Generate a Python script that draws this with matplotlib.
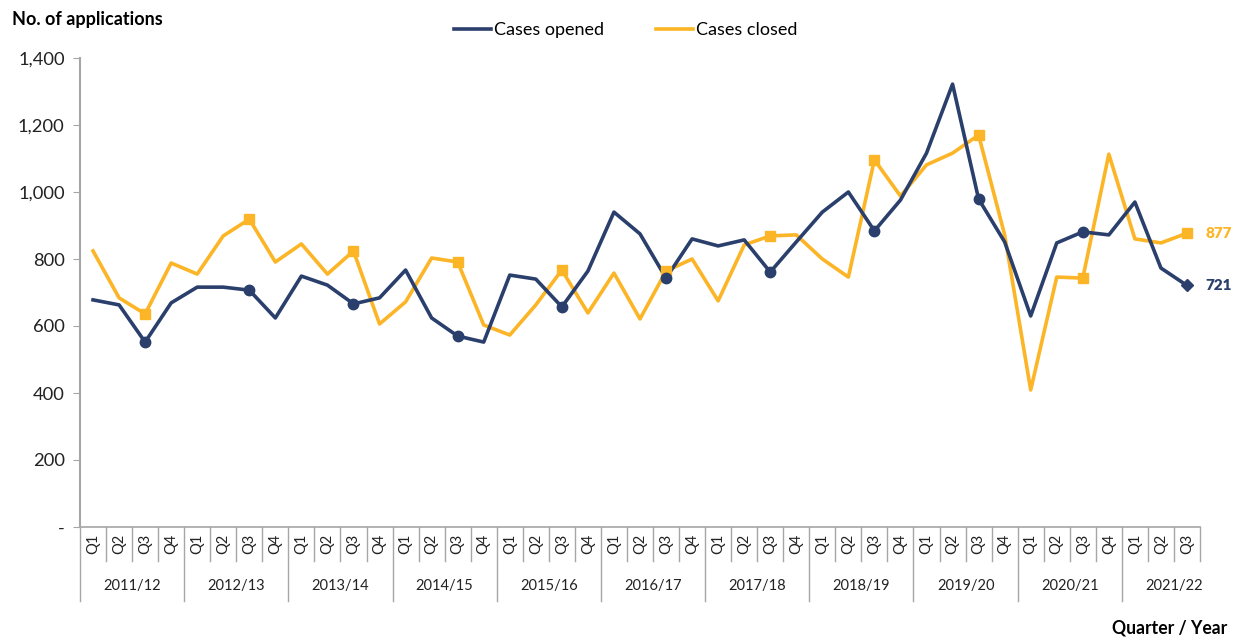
import numpy as np
import matplotlib
matplotlib.use("Agg")
import matplotlib.pyplot as plt
import matplotlib.transforms as mtransforms

plt.rcParams['font.family'] = ['Lato', 'DejaVu Sans']

years = ['2011/12', '2012/13', '2013/14', '2014/15', '2015/16', '2016/17',
         '2017/18', '2018/19', '2019/20', '2020/21', '2021/22']
quarters = ['Q1', 'Q2', 'Q3', 'Q4']
n_quarters = 43

cases_opened = [678, 663, 552, 669, 716, 716, 707, 624, 749, 722, 666, 684,
                767, 624, 570, 552, 752, 740, 657, 764, 940, 875, 743, 860,
                839, 857, 761, 851, 940, 1000, 884, 976, 1116, 1322, 979, 851,
                630, 848, 881, 872, 970, 773, 721]
cases_closed = [824, 684, 636, 788, 755, 869, 919, 791, 845, 755, 824, 606,
                672, 803, 791, 603, 573, 663, 767, 639, 758, 621, 764, 800,
                675, 842, 869, 872, 800, 746, 1096, 988, 1081, 1116, 1170, 872,
                409, 746, 743, 1113, 860, 848, 877]

navy = '#2A3F6C'
gold = '#FBB526'
grey = '#A6A6A6'

fig = plt.figure(figsize=(12.39, 6.37), dpi=100)
ax = fig.add_axes([80 / 1239, 110 / 637, 1120 / 1239, 469 / 637])

x = np.arange(n_quarters)
q3_idx = list(range(2, n_quarters, 4))

ax.plot(x, cases_opened, color=navy, lw=2.6, label='Cases opened', zorder=3)
ax.plot(x, cases_closed, color=gold, lw=2.6, label='Cases closed', zorder=2)
ax.plot(x[q3_idx[:-1]], np.array(cases_opened)[q3_idx[:-1]], 'o', color=navy,
        ms=7.5, zorder=4)
ax.plot(x[-1:], cases_opened[-1:], 'D', color=navy, ms=6, zorder=4)
ax.plot(x[q3_idx], np.array(cases_closed)[q3_idx], 's', color=gold, ms=7,
        zorder=3)

ax.annotate(f'{cases_closed[-1]}', (x[-1], cases_closed[-1]), xytext=(13, 0),
            textcoords='offset points', color=gold, fontsize=11,
            fontweight='heavy', va='center')
ax.annotate(f'{cases_opened[-1]}', (x[-1], cases_opened[-1]), xytext=(13, 0),
            textcoords='offset points', color=navy, fontsize=11,
            fontweight='heavy', va='center')

ax.set_xlim(-0.5, n_quarters - 0.5)
ax.set_ylim(0, 1400)
ax.set_yticks(range(0, 1401, 200))
ax.set_yticklabels(['-'] + [f'{v:,}' for v in range(200, 1401, 200)],
                   fontsize=13.2, color='#222222')
ax.tick_params(axis='y', length=5, color=grey, pad=6)

for s in ['top', 'right']:
    ax.spines[s].set_visible(False)
ax.spines['left'].set_color(grey)
ax.spines['left'].set_linewidth(1.5)
ax.spines['bottom'].set_color(grey)
ax.spines['bottom'].set_linewidth(1.2)

# multi-level category axis
ax.set_xticks([])
trans = mtransforms.blended_transform_factory(ax.transData, ax.transAxes)
for i in range(n_quarters):
    ax.text(i, -0.035, quarters[i % 4], rotation=90, transform=trans,
            ha='center', va='center', fontsize=10.5, color='#222222')
for b in range(n_quarters + 1):
    bx = b - 0.5
    low = -0.157 if (b % 4 == 0 and b < n_quarters) else -0.072
    ax.plot([bx, bx], [0, low], transform=trans, color=grey, lw=1,
            clip_on=False)
for k, yr in enumerate(years):
    ax.text(4 * k + 1.5, -0.125, yr, transform=trans, ha='center',
            va='center', fontsize=10.5, color='#222222')

fig.text(12 / 1239, 1 - 20 / 637, 'No. of applications', fontsize=13,
         fontweight='bold', va='center', ha='left')
fig.text(1227 / 1239, 1 - 628 / 637, 'Quarter / Year', fontsize=12.7,
         fontweight='bold', va='center', ha='right')

fig.legend(loc='center', bbox_to_anchor=(626 / 1239, 1 - 30 / 637), ncol=2,
           frameon=False, fontsize=13, handlelength=2.0, handletextpad=0.2,
           columnspacing=2.9)

fig.savefig('out.png', dpi=100)
